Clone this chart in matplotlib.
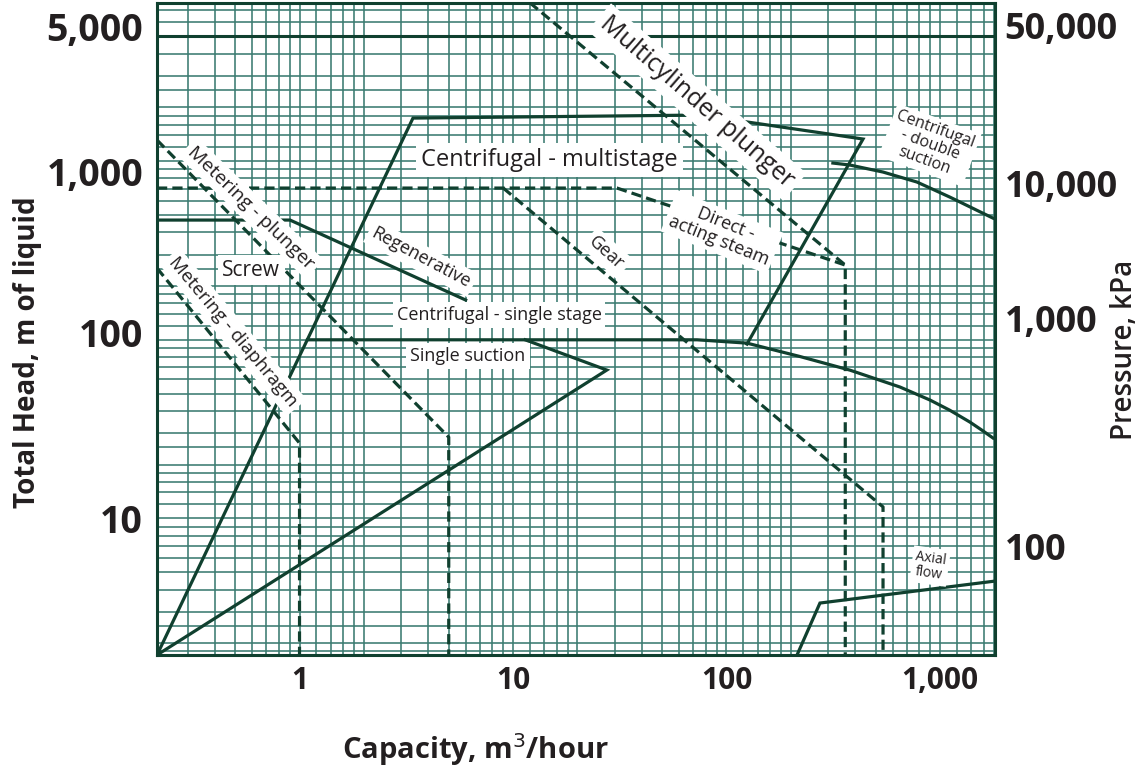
import numpy as np
import matplotlib
matplotlib.use("Agg")
import matplotlib.pyplot as plt
from matplotlib.ticker import FixedLocator, LogLocator, NullLocator, NullFormatter

plt.rcParams['font.family'] = ['Open Sans', 'DejaVu Sans']

# ---- axis ranges and tick labels ----
capacity_limits = (0.215, 1810)        # m3/hour
head_limits = (1.72, 7680)             # m of liquid

x_tick_values = [1, 10, 100, 1000]
x_tick_labels = ['1', '10', '100', '1,000']

head_tick_values = [10, 100, 1000, 5000]
head_tick_labels = ['10', '100', '1,000', '5,000']
# plotting-grid head level each printed head graduation sits against
head_label_level = [10.04, 110.4, 871, 5707]

pressure_tick_values = [100, 1000, 10000, 50000]
pressure_tick_labels = ['100', '1,000', '10,000', '50,000']
# plotting-grid head level each printed pressure graduation sits against
pressure_label_level = [7.0, 132, 754, 5780]

# ---- pump range boundaries: capacity (m3/h) vs head (m) ----
multistage_q = [0.215, 3.40, 75.2, 436, 124.7]
multistage_h = [1.72, 1742, 1812, 1330, 94.6]

double_suction_q = [315, 379, 541, 780, 1113, 1770]
double_suction_h = [976, 951, 869, 764, 629, 480]

single_stage_q = [1.09, 25.6, 72.8, 124.7, 221, 379, 649.5, 898, 1113, 1382, 1590, 1771]
single_stage_h = [100, 100, 100, 95.8, 80.6, 67.6, 54.4, 46.0, 40.3, 34.6, 30.9, 28.2]

single_suction_q = [11.4, 27.5, 0.215]
single_suction_h = [100, 67.7, 1.72]

regenerative_q = [0.215, 0.903, 6.0]
regenerative_h = [468, 468, 167]

axial_q = [214, 274, 1810]
axial_h = [1.72, 3.36, 4.46]

# reciprocating / rotary ranges (dashed)
multicylinder_q = [12.0, 360, 360]
multicylinder_h = [7700, 262, 1.72]

steam_q = [0.215, 30.7, 360]
steam_h = [707, 707, 262]

gear_q = [9.0, 541, 541]
gear_h = [707, 11.6, 1.72]

met_plunger_q = [0.215, 5.0, 5.0]
met_plunger_h = [1313, 28.5, 1.72]

met_diaphragm_q = [0.215, 1.0, 1.0]
met_diaphragm_h = [252, 26.4, 1.72]

top_head_line = 5000

# ---- region names ----
region_names = [
    "Multicylinder plunger",
    "Centrifugal - multistage",
    "Centrifugal\n- double\nsuction",
    "Direct -\nacting steam",
    "Gear",
    "Regenerative",
    "Screw",
    "Metering - plunger",
    "Metering - diaphragm",
    "Centrifugal - single stage",
    "Single suction",
    "Axial\nflow",
]
# placement: (capacity, head, rotation, fontsize)
region_layout = [
    (72.8, 2143, -41, 18),
    (14.75, 1014, 0, 17),
    (898, 1230, -20, 11.5),
    (95.3, 401, -22, 13),
    (27.5, 306, -42, 13),
    (3.71, 287, -28, 13),
    (0.593, 245.5, 0, 15),
    (0.593, 546, -44, 14),
    (0.488, 110.5, -50, 13.5),
    (8.6, 137.5, 0, 13),
    (6.16, 81.1, 0, 13),
    (898, 5.41, -8, 10),
]

GRID = '#3b7b71'
LINE = '#10402f'
TEXT = '#231f20'

fig = plt.figure(figsize=(11.42, 7.67), dpi=100)
ax = fig.add_axes([157 / 1142, 1 - 655 / 767, 838 / 1142, 652 / 767])
ax.set_xscale('log')
ax.set_yscale('log')
ax.set_xlim(*capacity_limits)
ax.set_ylim(*head_limits)

x_subs = [1.0, 1.2, 1.4, 1.6, 1.8, 2, 3, 4, 5, 6, 7, 8, 9]
y_subs = [1.0, 1.2, 1.4, 1.6, 1.8, 2, 2.5, 3, 4, 5, 6, 7, 8, 9]
ax.xaxis.set_major_locator(FixedLocator(x_tick_values))
ax.xaxis.set_minor_locator(LogLocator(base=10, subs=x_subs, numticks=40))
ax.yaxis.set_major_locator(NullLocator())
ax.yaxis.set_minor_locator(LogLocator(base=10, subs=y_subs, numticks=40))
ax.xaxis.set_minor_formatter(NullFormatter())
ax.yaxis.set_minor_formatter(NullFormatter())
ax.set_xticklabels(x_tick_labels)
ax.grid(which='both', color=GRID, lw=1.15, zorder=1)
ax.set_axisbelow(True)
ax.tick_params(which='both', length=0)
ax.tick_params(axis='x', pad=8, labelsize=21.5, labelcolor=TEXT)
for lab in ax.get_xticklabels():
    lab.set_fontweight('bold')
for sp in ax.spines.values():
    sp.set_color(LINE)
    sp.set_linewidth(2.2)

ax.axhline(top_head_line, color=LINE, lw=2.2, zorder=2)

solid = dict(color=LINE, lw=2.3, zorder=3, solid_joinstyle='miter')
dashed = dict(color=LINE, lw=2.3, zorder=3, ls=(0, (3.2, 1.6)))
ax.plot(multistage_q, multistage_h, **solid)
ax.plot(double_suction_q, double_suction_h, **solid)
ax.plot(single_stage_q, single_stage_h, **solid)
ax.plot(single_suction_q, single_suction_h, **solid)
ax.plot(regenerative_q, regenerative_h, **solid)
ax.plot(axial_q, axial_h, **solid)
ax.plot(multicylinder_q, multicylinder_h, **dashed)
ax.plot(steam_q, steam_h, **dashed)
ax.plot(gear_q, gear_h, **dashed)
ax.plot(met_plunger_q, met_plunger_h, **dashed)
ax.plot(met_diaphragm_q, met_diaphragm_h, **dashed)

for name, (q, h, rot, fs) in zip(region_names, region_layout):
    ax.text(q, h, name, rotation=rot, rotation_mode='anchor', ha='center',
            va='center', multialignment='center', fontsize=fs, color=TEXT,
            zorder=5, linespacing=1.05,
            bbox=dict(boxstyle='square,pad=0.22', fc='white', ec='none'))


# ---- printed graduation scales (piecewise log scales tied to the head grid) ----
def _pw(x, xs, ys):
    x = np.asarray(x, dtype=float)
    y = np.interp(x, xs, ys)
    y = np.where(x < xs[0], ys[0] + (x - xs[0]) * (ys[1] - ys[0]) / (xs[1] - xs[0]), y)
    y = np.where(x > xs[-1], ys[-1] + (x - xs[-1]) * (ys[-1] - ys[-2]) / (xs[-1] - xs[-2]), y)
    return y


def graduation_axis(values, labels, levels, side, size):
    lv = np.log10(values)
    ll = np.log10(levels)

    def fwd(v):
        v = np.clip(np.asarray(v, dtype=float), 1e-12, None)
        return _pw(np.log10(v), lv, ll)

    def inv(t):
        return 10 ** _pw(t, ll, lv)

    g = ax.twinx()
    g.set_yscale('function', functions=(fwd, inv))
    g.set_ylim(inv(np.log10(head_limits[0])), inv(np.log10(head_limits[1])))
    if side == 'left':
        g.yaxis.tick_left()
        pad = 10
    else:
        g.yaxis.tick_right()
        pad = 7
    g.yaxis.set_major_locator(FixedLocator(values))
    g.yaxis.set_minor_locator(NullLocator())
    g.set_yticklabels(labels)
    g.tick_params(which='both', length=0, pad=pad, labelsize=size, labelcolor=TEXT)
    for lab in g.get_yticklabels():
        lab.set_fontweight('bold')
    for sp in g.spines.values():
        sp.set_visible(False)
    return g


graduation_axis(head_tick_values, head_tick_labels, head_label_level, 'left', 27)
graduation_axis(pressure_tick_values, pressure_tick_labels, pressure_label_level, 'right', 26)

fig.text(475 / 1142, 1 - 750 / 767, 'Capacity, m$^3$/hour', ha='center', va='center',
         fontsize=21, fontweight='bold', color=TEXT)
fig.text(28 / 1142, 1 - 352 / 767, 'Total Head, m of liquid', ha='center', va='center',
         rotation=90, fontsize=20, fontweight='bold', color=TEXT)
fig.text(1124 / 1142, 1 - 350 / 767, 'Pressure, kPa', ha='center', va='center',
         rotation=90, fontsize=20, fontweight='semibold', color=TEXT)

fig.savefig('out.png', dpi=100, facecolor='white')
